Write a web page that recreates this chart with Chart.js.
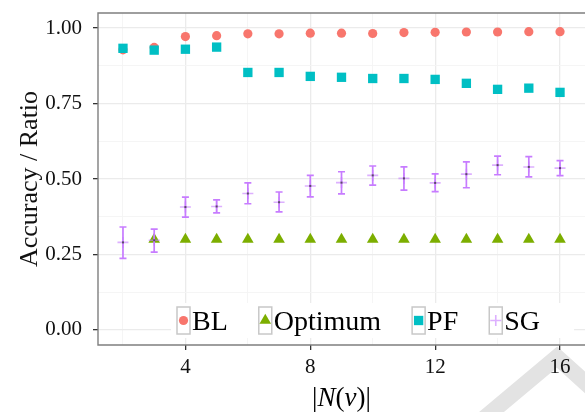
<!DOCTYPE html>
<html lang="en">
<head>
<meta charset="UTF-8">
<title>Accuracy / Ratio vs |N(v)|</title>
<script src="https://cdn.jsdelivr.net/npm/chart.js"></script>
<style>
  html, body { margin: 0; padding: 0; background: #fff; overflow: hidden; }
</style>
</head>
<body>
<canvas id="myChart" width="585" height="412"></canvas>

<script>
// data
const nv = [2, 3, 4, 5, 6, 7, 8, 9, 10, 11, 12, 13, 14, 15, 16];
const bl = [0.928, 0.936, 0.972, 0.975, 0.981, 0.981, 0.983, 0.983, 0.982, 0.985, 0.986, 0.987, 0.987, 0.988, 0.988];
const optimum = [null, 0.30, 0.30, 0.30, 0.30, 0.30, 0.30, 0.30, 0.30, 0.30, 0.30, 0.30, 0.30, 0.30, 0.30];
const pf = [0.933, 0.927, 0.930, 0.937, 0.853, 0.853, 0.840, 0.837, 0.833, 0.833, 0.830, 0.817, 0.797, 0.801, 0.787];
const sg = [0.290, 0.297, 0.407, 0.409, 0.452, 0.423, 0.477, 0.488, 0.512, 0.502, 0.487, 0.516, 0.546, 0.540, 0.536];
const sgLow = [0.237, 0.258, 0.374, 0.388, 0.418, 0.391, 0.441, 0.451, 0.480, 0.463, 0.458, 0.471, 0.514, 0.507, 0.511];
const sgHigh = [0.341, 0.334, 0.440, 0.431, 0.487, 0.457, 0.512, 0.524, 0.543, 0.540, 0.517, 0.557, 0.576, 0.574, 0.561];

const xMajor = [4, 8, 12, 16];
const xMinor = [2, 6, 10, 14];
const yMajor = [0, 0.25, 0.5, 0.75, 1];
const yMinor = [0.125, 0.375, 0.625, 0.875];

const FONT = '"Liberation Serif", "Times New Roman", serif';

const pts = (ys) => nv.map((n, i) => ({x: n, y: ys[i]}));

// white page + grey watermark chevron in the corner
const background = {
    id: 'background',
    beforeDraw(chart) {
        const ctx = chart.ctx;
        ctx.save();
        ctx.fillStyle = '#fff';
        ctx.fillRect(0, 0, chart.width, chart.height);
        ctx.strokeStyle = '#e3e3e3';
        ctx.lineWidth = 16;
        ctx.lineJoin = 'miter';
        ctx.beginPath();
        ctx.moveTo(482, 420);
        ctx.lineTo(557, 357);
        ctx.lineTo(600, 396);
        ctx.stroke();
        ctx.restore();
    }
};

// vertical error bars for SG, drawn just before the SG points
const errorBars = {
    id: 'errorBars',
    beforeDatasetDraw(chart, args) {
        if (chart.data.datasets[args.index].label !== 'SG') return;
        const {ctx, scales: {x, y}} = chart;
        ctx.save();
        ctx.strokeStyle = '#c77cff';
        ctx.lineWidth = 1.7;
        nv.forEach((n, i) => {
            const px = x.getPixelForValue(n);
            const lo = y.getPixelForValue(sgLow[i]);
            const hi = y.getPixelForValue(sgHigh[i]);
            ctx.beginPath();
            ctx.moveTo(px, lo); ctx.lineTo(px, hi);
            ctx.moveTo(px - 3.5, lo); ctx.lineTo(px + 3.5, lo);
            ctx.moveTo(px - 3.5, hi); ctx.lineTo(px + 3.5, hi);
            ctx.stroke();
        });
        ctx.restore();
    },
    afterDatasetDraw(chart, args) {
        if (chart.data.datasets[args.index].label !== 'SG') return;
        const {ctx, scales: {x, y}} = chart;
        ctx.save();
        ctx.fillStyle = '#5a4a66';
        nv.forEach((n, i) => {
            ctx.fillRect(x.getPixelForValue(n) - 1, y.getPixelForValue(sg[i]) - 1, 2, 2);
        });
        ctx.restore();
    }
};

// legend inside the panel, ggplot style keys
const insideLegend = {
    id: 'insideLegend',
    afterDatasetsDraw(chart) {
        const ctx = chart.ctx;
        const keyW = 13, keyH = 27, gap = 2, itemGap = 31;
        const startX = 177, midY = 320.5;
        ctx.save();
        ctx.font = '28px ' + FONT;
        const items = chart.data.datasets.map(ds => ({ds, w: ctx.measureText(ds.label).width}));
        const total = items.reduce((s, it) => s + keyW + gap + it.w, 0) + itemGap * (items.length - 1);
        ctx.fillStyle = '#fff';
        ctx.fillRect(startX - 6, midY - 17.5, total + 40, 35);
        let x = startX;
        items.forEach(it => {
            const ds = it.ds;
            ctx.strokeStyle = '#c8c8c8';
            ctx.lineWidth = 1.5;
            ctx.strokeRect(x, midY - keyH / 2, keyW, keyH);
            ctx.fillStyle = ds.backgroundColor;
            ctx.strokeStyle = ds.borderColor;
            ctx.lineWidth = ds.borderWidth;
            Chart.helpers.drawPoint(ctx, {
                pointStyle: ds.pointStyle, radius: ds.pointRadius,
                rotation: 0, borderWidth: ds.borderWidth
            }, x + keyW / 2, midY);
            ctx.fillStyle = '#000';
            ctx.textBaseline = 'alphabetic';
            ctx.textAlign = 'left';
            ctx.fillText(ds.label, x + keyW + gap, 330);
            x += keyW + gap + it.w + itemGap;
        });
        ctx.restore();
    }
};

// panel border and the |N(v)| axis title with italic N and v
const frame = {
    id: 'frame',
    afterDraw(chart) {
        const {ctx, chartArea: a} = chart;
        ctx.save();
        ctx.strokeStyle = '#7f7f7f';
        ctx.lineWidth = 1.4;
        ctx.beginPath();
        ctx.moveTo(a.right + 2, a.top); ctx.lineTo(a.left, a.top);
        ctx.lineTo(a.left, a.bottom); ctx.lineTo(a.right + 2, a.bottom);
        ctx.stroke();

        const parts = [['|', ''], ['N', 'italic '], ['(', ''], ['v', 'italic '], [')', ''], ['|', '']];
        const size = 27;
        let w = 0;
        parts.forEach(p => { ctx.font = p[1] + size + 'px ' + FONT; w += ctx.measureText(p[0]).width; });
        let x = (a.left + a.right) / 2 - w / 2;
        ctx.fillStyle = '#000';
        ctx.textBaseline = 'middle';
        ctx.textAlign = 'left';
        parts.forEach(p => {
            ctx.font = p[1] + size + 'px ' + FONT;
            ctx.fillText(p[0], x, 399);
            x += ctx.measureText(p[0]).width;
        });
        ctx.restore();
    }
};

const isIn = (arr, v) => arr.some(m => Math.abs(m - v) < 1e-9);

const ctx = document.getElementById('myChart').getContext('2d');
const myChart = new Chart(ctx, {
    type: 'scatter',
    data: {
        datasets: [
            { label: 'BL', data: pts(bl), pointStyle: 'circle', pointRadius: 4.6,
              backgroundColor: '#f8766d', borderColor: '#f8766d', borderWidth: 0, order: 4 },
            { label: 'Optimum', data: pts(optimum), pointStyle: 'triangle', pointRadius: 6.7,
              backgroundColor: '#7cae00', borderColor: '#7cae00', borderWidth: 0, order: 3 },
            { label: 'PF', data: pts(pf), pointStyle: 'rect', pointRadius: 6.6,
              backgroundColor: '#00bfc4', borderColor: '#00bfc4', borderWidth: 0, order: 2 },
            { label: 'SG', data: pts(sg), pointStyle: 'cross', pointRadius: 5.5,
              backgroundColor: 'rgba(199,124,255,0.6)', borderColor: 'rgba(199,124,255,0.6)', borderWidth: 1.6, order: 1 }
        ]
    },
    options: {
        responsive: false,
        animation: false,
        devicePixelRatio: 1,
        layout: { autoPadding: false, padding: { top: 13, right: 0, bottom: 0, left: 0 } },
        plugins: {
            legend: { display: false },
            tooltip: { enabled: false }
        },
        scales: {
            x: {
                type: 'linear',
                min: 1.2,
                max: 16.8,
                afterBuildTicks: s => { s.ticks = xMinor.concat(xMajor).sort((a, b) => a - b).map(v => ({value: v})); },
                afterFit: s => { s.height = 67; s.paddingLeft = 0; s.paddingRight = 0; },
                border: { display: false },
                grid: {
                    color: c => isIn(xMajor, c.tick.value) ? '#ebebeb' : '#f4f4f4',
                    lineWidth: c => isIn(xMajor, c.tick.value) ? 1.3 : 0.9,
                    tickColor: c => isIn(xMajor, c.tick.value) ? '#333' : 'rgba(0,0,0,0)',
                    tickLength: 5,
                    tickWidth: 1.3
                },
                ticks: {
                    autoSkip: false,
                    maxRotation: 0,
                    padding: 7,
                    color: '#111',
                    font: { family: FONT, size: 21, lineHeight: 1 },
                    callback: v => isIn(xMajor, v) ? String(v) : ''
                }
            },
            y: {
                min: -0.05,
                max: 1.05,
                afterBuildTicks: s => { s.ticks = yMinor.concat(yMajor).sort((a, b) => a - b).map(v => ({value: v})); },
                afterFit: s => { s.width = 98; s.paddingTop = 0; s.paddingBottom = 0; },
                border: { display: false },
                grid: {
                    color: c => isIn(yMajor, c.tick.value) ? '#ebebeb' : '#f4f4f4',
                    lineWidth: c => isIn(yMajor, c.tick.value) ? 1.3 : 0.9,
                    tickColor: c => isIn(yMajor, c.tick.value) ? '#333' : 'rgba(0,0,0,0)',
                    tickLength: 5,
                    tickWidth: 1.3
                },
                ticks: {
                    autoSkip: false,
                    padding: 11,
                    color: '#111',
                    font: { family: FONT, size: 21, lineHeight: 1 },
                    callback: v => isIn(yMajor, v) ? v.toFixed(2) : ''
                },
                title: {
                    display: true,
                    text: 'Accuracy / Ratio',
                    color: '#111',
                    font: { family: FONT, size: 26, lineHeight: 1 },
                    padding: { top: 17, bottom: 0 }
                }
            }
        }
    },
    plugins: [background, errorBars, insideLegend, frame]
});
</script>

</body>
</html>
